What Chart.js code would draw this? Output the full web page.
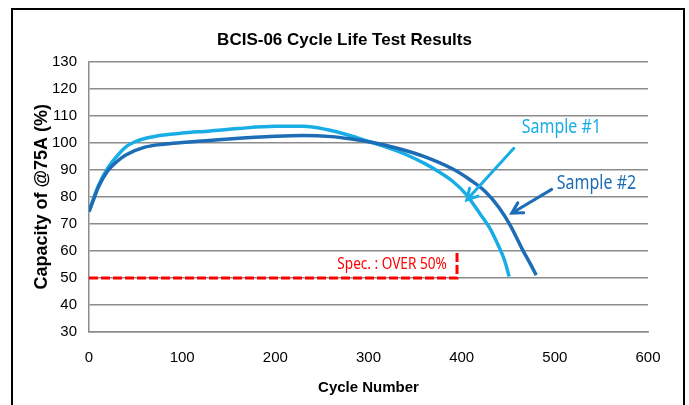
<!DOCTYPE html>
<html>
<head>
<meta charset="utf-8">
<script src="https://cdn.jsdelivr.net/npm/chart.js@4/dist/chart.umd.min.js"></script>
<style>
    html, body { margin: 0; padding: 0; background: #fff; }
</style>
</head>
<body>
<canvas id="chart-cycle" width="689" height="405"></canvas>
<script>
// Sample #1 (light blue)
const cycles1 = [0, 5, 10, 20, 30, 40, 50, 60, 80, 100, 130, 160, 200, 230, 255, 280, 300, 320, 340, 360, 375, 390, 405, 420, 430, 440, 446, 451];
const sample1 = [74.5, 79.5, 84, 90.5, 95, 98.5, 100.4, 101.5, 102.8, 103.5, 104.3, 105.2, 106, 106, 104.8, 102.6, 100.4, 98.2, 95.6, 92.3, 89.3, 85.8, 80.8, 73.5, 68.5, 61.5, 56.5, 50.5];

// Sample #2 (dark blue)
const cycles2 = [0, 5, 10, 20, 30, 40, 60, 80, 100, 150, 200, 230, 260, 280, 300, 330, 360, 390, 410, 425, 440, 452, 466, 474, 480];
const sample2 = [74.5, 79, 83.5, 89.5, 93, 95.5, 98.3, 99.4, 100, 101.3, 102.3, 102.6, 102.2, 101.4, 100.3, 98, 94.8, 90.3, 86, 82, 76, 69.5, 60, 55, 51];

// spec limit box
const specCycles = [0, 395, 395];
const specValues = [50, 50, 60];

const lightBlue = '#19ade6';
const darkBlue = '#1c6cb6';
const gridGray = '#8c8c8c';

// callouts, in chart units
const callouts = [
    { text: 'Sample #1', x: 507, y: 105.6, color: lightBlue, size: 20, align: 'center' },
    { text: 'Sample #2', x: 544.7, y: 85.1, color: darkBlue, size: 20, align: 'center' },
    { text: 'Spec. : OVER 50%', x: 384, y: 54.9, color: '#ff0000', size: 17, align: 'right' }
];
const arrows = [
    { from: [456, 97.9], to: [405.4, 78.8], color: lightBlue },
    { from: [496.6, 82.7], to: [453.7, 73.9], color: darkBlue }
];

const toPoints = (xs, ys) => xs.map((x, i) => ({ x: x, y: ys[i] }));

const framePlugin = {
    id: 'frame',
    beforeDraw(chart) {
        const ctx = chart.ctx;
        ctx.save();
        ctx.fillStyle = '#fff';
        ctx.fillRect(0, 0, chart.width, chart.height);
        ctx.strokeStyle = '#000';
        ctx.lineWidth = 2;
        ctx.strokeRect(12, 9, 672, 420);
        ctx.restore();
    }
};

const calloutPlugin = {
    id: 'callouts',
    afterDatasetsDraw(chart) {
        const ctx = chart.ctx;
        const xs = chart.scales.x, ys = chart.scales.y;
        ctx.save();
        arrows.forEach(a => {
            const x1 = xs.getPixelForValue(a.from[0]), y1 = ys.getPixelForValue(a.from[1]);
            const x2 = xs.getPixelForValue(a.to[0]), y2 = ys.getPixelForValue(a.to[1]);
            const ang = Math.atan2(y2 - y1, x2 - x1);
            ctx.strokeStyle = a.color;
            ctx.lineWidth = 3;
            ctx.lineCap = 'round';
            ctx.beginPath();
            ctx.moveTo(x1, y1);
            ctx.lineTo(x2, y2);
            ctx.moveTo(x2 - 12 * Math.cos(ang - 0.5), y2 - 12 * Math.sin(ang - 0.5));
            ctx.lineTo(x2, y2);
            ctx.lineTo(x2 - 12 * Math.cos(ang + 0.5), y2 - 12 * Math.sin(ang + 0.5));
            ctx.stroke();
        });
        callouts.forEach(c => {
            ctx.save();
            ctx.translate(xs.getPixelForValue(c.x), ys.getPixelForValue(c.y));
            ctx.scale(0.8, 1);
            ctx.font = c.size + 'px "Noto Sans"';
            ctx.fillStyle = c.color;
            ctx.textAlign = c.align;
            ctx.textBaseline = 'middle';
            ctx.fillText(c.text, 0, 0);
            ctx.restore();
        });
        ctx.restore();
    }
};

const sans = '"Liberation Sans", Arial, sans-serif';

const configCycle = {
    type: 'line',
    data: {
        datasets: [{
            label: 'Spec',
            data: toPoints(specCycles, specValues),
            borderColor: '#ff0000',
            borderWidth: 3,
            borderDash: [9, 3],
            pointRadius: 0,
            tension: 0
        }, {
            label: 'Sample #2',
            data: toPoints(cycles2, sample2),
            borderColor: darkBlue,
            borderWidth: 3.5,
            pointRadius: 0,
            cubicInterpolationMode: 'monotone'
        }, {
            label: 'Sample #1',
            data: toPoints(cycles1, sample1),
            borderColor: lightBlue,
            borderWidth: 3.5,
            pointRadius: 0,
            cubicInterpolationMode: 'monotone'
        }]
    },
    options: {
        responsive: false,
        animation: false,
        layout: {
            padding: 0
        },
        plugins: {
            legend: { display: false },
            tooltip: { enabled: false },
            title: {
                display: true,
                text: 'BCIS-06 Cycle Life Test Results',
                color: '#000',
                font: { family: sans, weight: 'bold', size: 17 },
                padding: { top: 30, bottom: 11 }
            }
        },
        scales: {
            x: {
                type: 'linear',
                min: 0,
                max: 600,
                ticks: { stepSize: 100, padding: 17, color: '#000', font: { family: sans, size: 15 } },
                grid: { display: false, drawTicks: false },
                border: { display: true, color: gridGray, width: 1.5 },
                title: {
                    display: true,
                    text: 'Cycle Number',
                    color: '#000',
                    font: { family: sans, weight: 'bold', size: 15 },
                    padding: { top: 0, bottom: 8 }
                },
                afterFit(scale) { scale.height = 73; }
            },
            y: {
                min: 30,
                max: 130,
                ticks: { stepSize: 10, padding: 12, color: '#000', font: { family: sans, size: 15 } },
                grid: { color: gridGray, lineWidth: 1.5, drawTicks: false },
                border: { display: true, color: gridGray, width: 1.5 },
                title: {
                    display: true,
                    text: 'Capacity of @75A (%)',
                    color: '#000',
                    font: { family: sans, weight: 'bold', size: 18 },
                    padding: { top: 31, bottom: 0 }
                },
                afterFit(scale) { scale.width = 89; }
            },
            // empty right margin so the title centres on the whole frame
            yRight: {
                position: 'right',
                min: 30,
                max: 130,
                ticks: { display: false },
                grid: { display: false },
                border: { display: false },
                afterFit(scale) { scale.width = 41; }
            }
        }
    },
    plugins: [framePlugin, calloutPlugin]
};

const myChartCycle = new Chart(document.getElementById('chart-cycle'), configCycle);
</script>
</body>
</html>
